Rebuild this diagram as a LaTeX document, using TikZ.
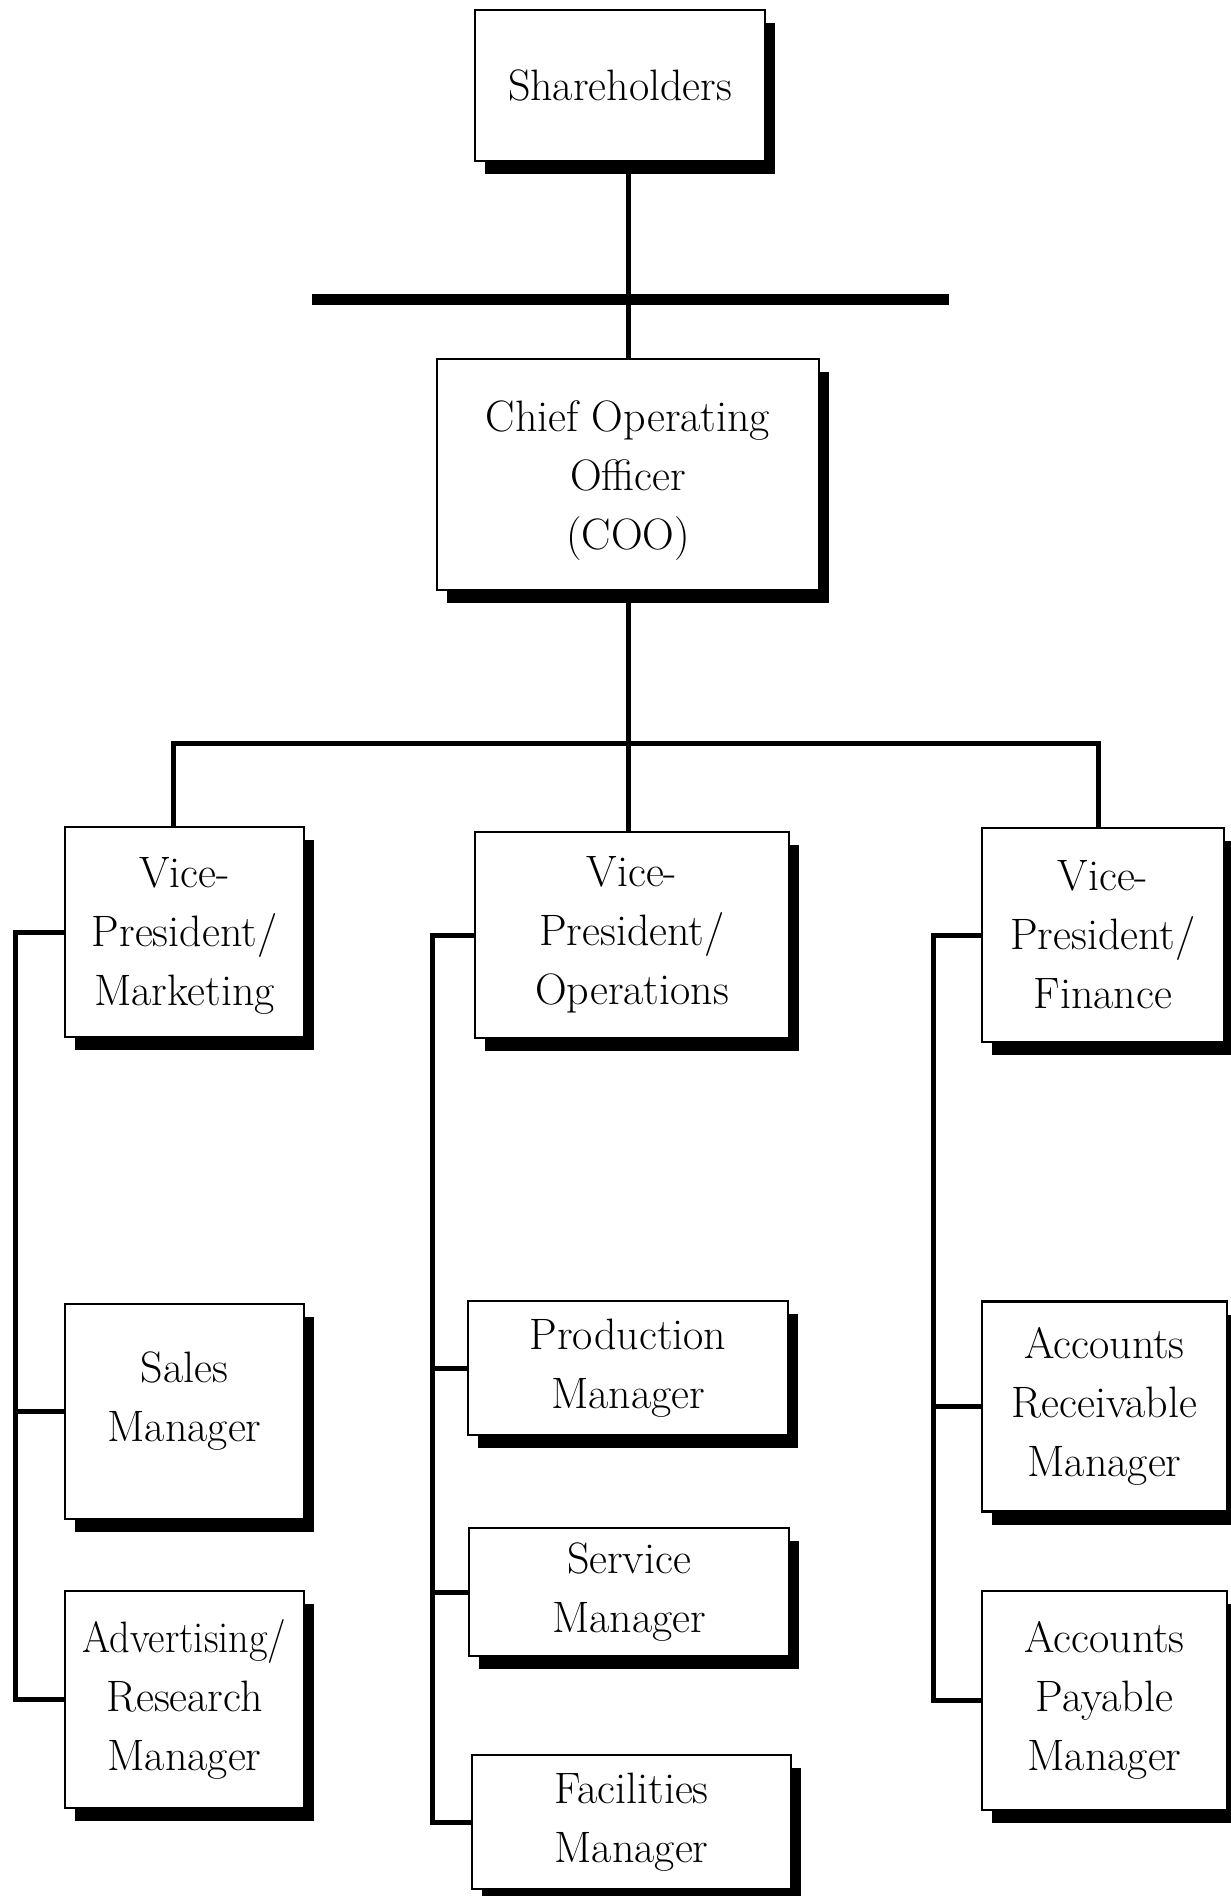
\documentclass[tikz,border=0pt]{standalone}
\usetikzlibrary{shadows}
\begin{document}
\begin{tikzpicture}[x=1pt,y=-1pt,
  box/.style={draw=black, line width=2.5pt, fill=white, inner sep=0pt, align=center,
    font=\fontsize{44}{59}\selectfont,
    general shadow={fill=black, shadow xshift=10pt, shadow yshift=-13pt}},
  conn/.style={draw=black, line width=5pt, line join=miter},
  bar/.style={draw=black, line width=11pt}]
\fill[white] (0,0) rectangle (1231,1896);
\useasboundingbox (0,0) rectangle (1231,1896);

% nodes
\node[box, minimum width=290, minimum height=151] (sh) at (620,85.5) {Shareholders};
\node[box, minimum width=382, minimum height=231] (coo) at (628,474.5) {\raisebox{0pt}[\dimexpr\height+12pt\relax][\depth]{Chief Operating}\\Officer\\(COO)};

\node[box, minimum width=239, minimum height=210] (vpm) at (184.5,932) {\raisebox{0pt}[\dimexpr\height+8pt\relax][\depth]{Vice-}\\President/\\Marketing};
\node[box, minimum width=314, minimum height=206] (vpo) at (632,935) {Vice-\\President/\\Operations};
\node[box, minimum width=242, minimum height=214] (vpf) at (1103,935) {Vice-\\President/\\Finance};

\node[box, minimum width=239, minimum height=215] (sales) at (184.5,1411.5) {Sales\\\raisebox{0pt}[\height][\dimexpr\depth+20pt\relax]{Manager}};
\node[box, minimum width=239, minimum height=217] (adv) at (184.5,1699.5) {\scalebox{0.92}[1]{Advertising/}\\Research\\Manager};

\node[box, minimum width=320, minimum height=134] (prod) at (628,1368) {Production\\Manager};
\node[box, minimum width=320, minimum height=128] (serv) at (629,1592) {Service\\Manager};
\node[box, minimum width=319, minimum height=134] (fac) at (631.5,1822) {Facilities\\Manager};

\node[box, minimum width=245, minimum height=210] (ar) at (1104.5,1406.5) {Accounts\\Receivable\\Manager};
\node[box, minimum width=245, minimum height=219] (ap) at (1104.5,1700.5) {Accounts\\Payable\\Manager};

% helper coordinates
\coordinate (barL) at (312,299);
\coordinate (barR) at (949,299);
\coordinate (hl) at (173,743);
\coordinate (hr) at (1098,743);
\coordinate (mkx) at (15,0);
\coordinate (opx) at (432,0);
\coordinate (fnx) at (933,0);

% connectors
\draw[conn] (coo.north |- sh.south) -- (coo.north);
\draw[bar] (barL) -- (barR);
\draw[conn] (coo.south) -- (coo.south |- vpo.north);
\draw[conn] (hl |- vpm.north) -- (hl) -- (hr) -- (hr |- vpf.north);

\draw[conn] (vpm.west) -- (mkx |- vpm.west) -- (mkx |- adv.west) -- (adv.west);
\draw[conn] (mkx |- sales.west) -- (sales.west);

\draw[conn] (vpo.west) -- (opx |- vpo.west) -- (opx |- fac.west) -- (fac.west);
\draw[conn] (opx |- prod.west) -- (prod.west);
\draw[conn] (opx |- serv.west) -- (serv.west);

\draw[conn] (vpf.west) -- (fnx |- vpf.west) -- (fnx |- ap.west) -- (ap.west);
\draw[conn] (fnx |- ar.west) -- (ar.west);
\end{tikzpicture}
\end{document}
